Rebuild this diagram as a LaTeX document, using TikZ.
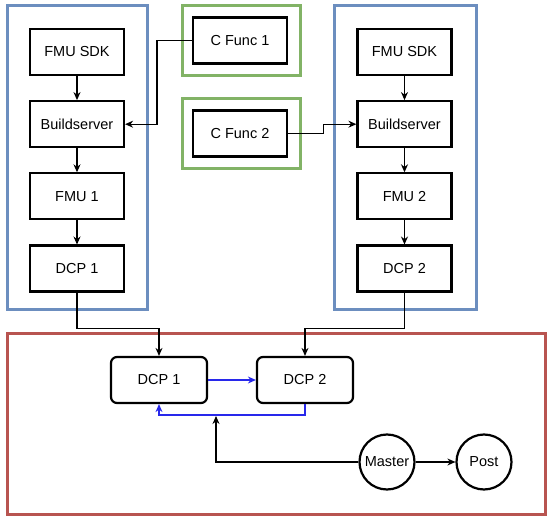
\documentclass[tikz,border=0pt]{standalone}
\usepackage{fontspec}
\setmainfont{Liberation Sans}
\usetikzlibrary{positioning,arrows.meta}

\definecolor{groupblue}{RGB}{108,142,191}
\definecolor{groupgreen}{RGB}{130,179,102}
\definecolor{groupred}{RGB}{184,84,80}
\definecolor{linkblue}{RGB}{40,40,235}

\tikzset{
  blockbox/.style={draw, line width=2.2pt, minimum width=94pt, minimum height=46pt,
    inner sep=0pt, font=\fontsize{14.5}{17}\selectfont},
  dcpbox/.style={blockbox, rounded corners=6pt, minimum width=96pt},
  roundnode/.style={draw, circle, line width=2.2pt, minimum size=55pt, inner sep=0pt,
    font=\fontsize{14.5}{17}\selectfont},
  link/.style={-{Stealth[length=8pt,width=7pt]}, line width=1.2pt},
  bluelink/.style={link, draw=linkblue},
  group/.style={line width=3pt}
}

\begin{document}
\begin{tikzpicture}[x=1pt,y=-1pt, node distance=24pt]
  \useasboundingbox (0,0) rectangle (550,521);

  % Groups
  \draw[group, groupblue] (7,6) rectangle (147,310);
  \draw[group, groupblue] (334,6) rectangle (476,310);
  \draw[group, groupgreen] (182,6) rectangle (300,76);
  \draw[group, groupgreen] (182,99) rectangle (300,169);
  \draw[group, groupred] (7,334) rectangle (545,515);

  % Left chain
  \node[blockbox] (sdkA) at (77,52) {FMU SDK};
  \node[blockbox, below=of sdkA] (buildA) {Buildserver};
  \node[blockbox, below=of buildA] (fmuA) {FMU 1};
  \node[blockbox, below=of fmuA] (dcpA) {DCP 1};

  % Right chain
  \node[blockbox] (sdkB) at (404.5,52) {FMU SDK};
  \node[blockbox, below=of sdkB] (buildB) {Buildserver};
  \node[blockbox, below=of buildB] (fmuB) {FMU 2};
  \node[blockbox, below=of fmuB] (dcpB) {DCP 2};

  % C functions
  \node[blockbox] (funcA) at (240,40.5) {C Func 1};
  \node[blockbox] (funcB) at (240,133.5) {C Func 2};

  % Co-simulation
  \node[dcpbox] (dcpX) at (159,380) {DCP 1};
  \node[dcpbox] (dcpY) at (305,380) {DCP 2};
  \node[roundnode] (master) at (387,462) {Master};
  \node[roundnode] (post) at (484,462) {Post};
  \coordinate (tap) at (216,416);

  \draw[link] (sdkA) -- (buildA);
  \draw[link] (buildA) -- (fmuA);
  \draw[link] (fmuA) -- (dcpA);
  \draw[link] (sdkB) -- (buildB);
  \draw[link] (buildB) -- (fmuB);
  \draw[link] (fmuB) -- (dcpB);

  \draw[link] (funcA.west) -- ++(-35,0) |- (buildA.east);
  \draw[link] (funcB.east) -- ++(35,0) |- (buildB.west);

  \draw[link] (dcpA.south) -- ++(0,36) -| (dcpX.north);
  \draw[link] (dcpB.south) -- ++(0,36) -| (dcpY.north);

  \draw[bluelink] (dcpX) -- (dcpY);
  \draw[bluelink] (dcpY.south) -- ++(0,11) -| (dcpX.south);

  \draw[link] (master) -| (tap);
  \draw[link] (master) -- (post);
\end{tikzpicture}
\end{document}
